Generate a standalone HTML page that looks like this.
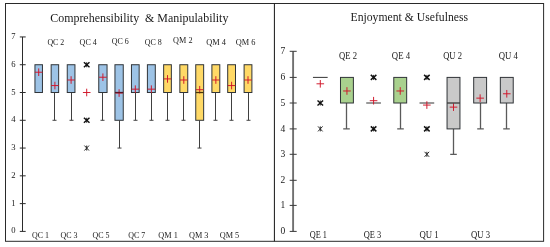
<!DOCTYPE html>
<html lang="en"><head><meta charset="utf-8"><title>Box plots</title>
<style>html,body{margin:0;padding:0;background:#fff}svg{display:block;filter:blur(0.3px)}svg text{font-family:"Liberation Serif","DejaVu Serif",serif}</style>
</head><body>
<svg width="550" height="247" viewBox="0 0 550 247" font-family='"Liberation Serif", "DejaVu Serif", serif'>
<rect width="550" height="247" fill="#fff"/>
<rect x="5.5" y="3.5" width="538.1" height="237.8" fill="none" stroke="#2a2a2a" stroke-width="1"/>
<path d="M274.4 3.5V241.3" stroke="#151515" stroke-width="1"/>
<path d="M22.5 36.95V231.40" stroke="#2b2b2b" stroke-width="1"/>
<path d="M19.8 231.40H25.7" stroke="#2b2b2b" stroke-width="1"/>
<text x="13.50" y="233.40" font-size="8.6" text-anchor="middle" fill="#1a1a1a">0</text>
<path d="M19.8 203.62H25.7" stroke="#2b2b2b" stroke-width="1"/>
<text x="13.50" y="205.62" font-size="8.6" text-anchor="middle" fill="#1a1a1a">1</text>
<path d="M19.8 175.84H25.7" stroke="#2b2b2b" stroke-width="1"/>
<text x="13.50" y="177.84" font-size="8.6" text-anchor="middle" fill="#1a1a1a">2</text>
<path d="M19.8 148.06H25.7" stroke="#2b2b2b" stroke-width="1"/>
<text x="13.50" y="150.06" font-size="8.6" text-anchor="middle" fill="#1a1a1a">3</text>
<path d="M19.8 120.29H25.7" stroke="#2b2b2b" stroke-width="1"/>
<text x="13.50" y="122.29" font-size="8.6" text-anchor="middle" fill="#1a1a1a">4</text>
<path d="M19.8 92.51H25.7" stroke="#2b2b2b" stroke-width="1"/>
<text x="13.50" y="94.51" font-size="8.6" text-anchor="middle" fill="#1a1a1a">5</text>
<path d="M19.8 64.73H25.7" stroke="#2b2b2b" stroke-width="1"/>
<text x="13.50" y="66.73" font-size="8.6" text-anchor="middle" fill="#1a1a1a">6</text>
<path d="M19.8 36.95H25.7" stroke="#2b2b2b" stroke-width="1"/>
<text x="13.50" y="38.95" font-size="8.6" text-anchor="middle" fill="#1a1a1a">7</text>
<path d="M293.1 51.30V231.40" stroke="#707070" stroke-width="1.9"/>
<path d="M289.70000000000005 231.40H296.70000000000005" stroke="#3a3a3a" stroke-width="1"/>
<text x="282.80" y="234.30" font-size="9.5" text-anchor="middle" fill="#1a1a1a">0</text>
<path d="M289.70000000000005 205.40H296.70000000000005" stroke="#3a3a3a" stroke-width="1"/>
<text x="282.80" y="208.30" font-size="9.5" text-anchor="middle" fill="#1a1a1a">1</text>
<path d="M289.70000000000005 180.30H296.70000000000005" stroke="#3a3a3a" stroke-width="1"/>
<text x="282.80" y="183.20" font-size="9.5" text-anchor="middle" fill="#1a1a1a">2</text>
<path d="M289.70000000000005 154.30H296.70000000000005" stroke="#3a3a3a" stroke-width="1"/>
<text x="282.80" y="157.20" font-size="9.5" text-anchor="middle" fill="#1a1a1a">3</text>
<path d="M289.70000000000005 128.90H296.70000000000005" stroke="#3a3a3a" stroke-width="1"/>
<text x="282.80" y="131.80" font-size="9.5" text-anchor="middle" fill="#1a1a1a">4</text>
<path d="M289.70000000000005 103.00H296.70000000000005" stroke="#3a3a3a" stroke-width="1"/>
<text x="282.80" y="105.90" font-size="9.5" text-anchor="middle" fill="#1a1a1a">5</text>
<path d="M289.70000000000005 77.40H296.70000000000005" stroke="#3a3a3a" stroke-width="1"/>
<text x="282.80" y="80.30" font-size="9.5" text-anchor="middle" fill="#1a1a1a">6</text>
<path d="M289.70000000000005 51.30H296.70000000000005" stroke="#3a3a3a" stroke-width="1"/>
<text x="282.80" y="54.20" font-size="9.5" text-anchor="middle" fill="#1a1a1a">7</text>
<text x="139.30" y="21.80" font-size="11.5" text-anchor="middle" fill="#1a1a1a" textLength="178.2" lengthAdjust="spacingAndGlyphs">Comprehensibility &#160;&amp; Manipulability</text>
<text x="409.30" y="20.80" font-size="11.5" text-anchor="middle" fill="#1a1a1a" textLength="117.6" lengthAdjust="spacingAndGlyphs">Enjoyment &amp; Usefulness</text>
<rect x="34.95" y="64.73" width="7.50" height="27.78" fill="#9dc3e6" stroke="#303438" stroke-width="1"/>
<path d="M34.90 72.23H42.50M38.70 68.43V76.03" stroke="#d01428" stroke-width="0.95" fill="none"/>
<path d="M54.50 92.51V120.29M52.50 120.29H56.50" stroke="#404040" stroke-width="1.0" fill="none"/>
<rect x="51.15" y="64.73" width="7.50" height="27.78" fill="#9dc3e6" stroke="#303438" stroke-width="1"/>
<path d="M51.10 85.56H58.70M54.90 81.76V89.36" stroke="#d01428" stroke-width="0.95" fill="none"/>
<path d="M71.50 92.51V120.29M69.50 120.29H73.50" stroke="#404040" stroke-width="1.0" fill="none"/>
<rect x="67.25" y="64.73" width="7.70" height="27.78" fill="#9dc3e6" stroke="#303438" stroke-width="1"/>
<path d="M67.30 80.01H74.90M71.10 76.21V83.81" stroke="#d01428" stroke-width="0.95" fill="none"/>
<path d="M83.90 62.23L89.50 67.23M83.90 67.23L89.50 62.23" stroke="#111" stroke-width="1.45" fill="none"/>
<path d="M86.70 62.23V67.23" stroke="#111" stroke-width="0.9" fill="none"/>
<path d="M83.90 117.79L89.50 122.79M83.90 122.79L89.50 117.79" stroke="#111" stroke-width="1.45" fill="none"/>
<path d="M86.70 117.79V122.79" stroke="#111" stroke-width="0.9" fill="none"/>
<path d="M84.40 145.56L89.00 150.56M84.40 150.56L89.00 145.56M86.70 145.56V150.56" stroke="#2a2a2a" stroke-width="1.0" fill="none"/>
<path d="M82.90 92.51H90.50M86.70 88.71V96.31" stroke="#d01428" stroke-width="0.95" fill="none"/>
<path d="M102.50 92.51V120.29M100.50 120.29H104.50" stroke="#404040" stroke-width="1.0" fill="none"/>
<rect x="98.75" y="64.73" width="8.30" height="27.78" fill="#9dc3e6" stroke="#303438" stroke-width="1"/>
<path d="M99.10 77.23H106.70M102.90 73.43V81.03" stroke="#d01428" stroke-width="0.95" fill="none"/>
<path d="M119.50 120.29V148.06M117.50 148.06H121.50" stroke="#404040" stroke-width="1.0" fill="none"/>
<rect x="114.95" y="64.73" width="8.30" height="55.56" fill="#9dc3e6" stroke="#303438" stroke-width="1"/>
<path d="M115.30 93.06H122.90M119.10 89.26V96.86" stroke="#d01428" stroke-width="0.95" fill="none"/>
<path d="M114.95 92.51H123.25" stroke="#5a1624" stroke-width="1.3" fill="none"/>
<path d="M135.50 92.51V120.29M133.50 120.29H137.50" stroke="#404040" stroke-width="1.0" fill="none"/>
<rect x="131.45" y="64.73" width="7.70" height="27.78" fill="#9dc3e6" stroke="#303438" stroke-width="1"/>
<path d="M131.50 89.17H139.10M135.30 85.37V92.97" stroke="#d01428" stroke-width="0.95" fill="none"/>
<path d="M151.50 92.51V120.29M149.50 120.29H153.50" stroke="#404040" stroke-width="1.0" fill="none"/>
<rect x="147.40" y="64.73" width="7.90" height="27.78" fill="#9dc3e6" stroke="#303438" stroke-width="1"/>
<path d="M147.55 89.17H155.15M151.35 85.37V92.97" stroke="#d01428" stroke-width="0.95" fill="none"/>
<path d="M167.50 92.51V120.29M165.50 120.29H169.50" stroke="#404040" stroke-width="1.0" fill="none"/>
<rect x="163.65" y="64.73" width="7.70" height="27.78" fill="#ffd966" stroke="#303438" stroke-width="1"/>
<path d="M163.70 78.90H171.30M167.50 75.10V82.70" stroke="#d01428" stroke-width="0.95" fill="none"/>
<path d="M183.50 92.51V120.29M181.50 120.29H185.50" stroke="#404040" stroke-width="1.0" fill="none"/>
<rect x="179.85" y="64.73" width="7.90" height="27.78" fill="#ffd966" stroke="#303438" stroke-width="1"/>
<path d="M180.00 80.01H187.60M183.80 76.21V83.81" stroke="#d01428" stroke-width="0.95" fill="none"/>
<path d="M199.50 120.29V148.06M197.50 148.06H201.50" stroke="#404040" stroke-width="1.0" fill="none"/>
<rect x="195.75" y="64.73" width="7.90" height="55.56" fill="#ffd966" stroke="#303438" stroke-width="1"/>
<path d="M195.90 89.73H203.50M199.70 85.93V93.53" stroke="#d01428" stroke-width="0.95" fill="none"/>
<path d="M195.75 92.51H203.65" stroke="#4a3508" stroke-width="1.3" fill="none"/>
<path d="M215.50 92.51V120.29M213.50 120.29H217.50" stroke="#404040" stroke-width="1.0" fill="none"/>
<rect x="211.90" y="64.73" width="7.90" height="27.78" fill="#ffd966" stroke="#303438" stroke-width="1"/>
<path d="M212.05 80.01H219.65M215.85 76.21V83.81" stroke="#d01428" stroke-width="0.95" fill="none"/>
<path d="M231.50 92.51V120.29M229.50 120.29H233.50" stroke="#404040" stroke-width="1.0" fill="none"/>
<rect x="227.70" y="64.73" width="7.80" height="27.78" fill="#ffd966" stroke="#303438" stroke-width="1"/>
<path d="M227.80 85.56H235.40M231.60 81.76V89.36" stroke="#d01428" stroke-width="0.95" fill="none"/>
<path d="M248.50 92.51V120.29M246.50 120.29H250.50" stroke="#404040" stroke-width="1.0" fill="none"/>
<rect x="244.10" y="64.73" width="7.80" height="27.78" fill="#ffd966" stroke="#303438" stroke-width="1"/>
<path d="M244.20 80.01H251.80M248.00 76.21V83.81" stroke="#d01428" stroke-width="0.95" fill="none"/>
<text x="55.80" y="44.90" font-size="8.3" text-anchor="middle" fill="#1a1a1a" textLength="16.8" lengthAdjust="spacingAndGlyphs">QC 2</text>
<text x="88.20" y="44.90" font-size="8.3" text-anchor="middle" fill="#1a1a1a" textLength="17.2" lengthAdjust="spacingAndGlyphs">QC 4</text>
<text x="120.20" y="43.50" font-size="8.3" text-anchor="middle" fill="#1a1a1a" textLength="17.0" lengthAdjust="spacingAndGlyphs">QC 6</text>
<text x="153.20" y="44.90" font-size="8.3" text-anchor="middle" fill="#1a1a1a" textLength="17.0" lengthAdjust="spacingAndGlyphs">QC 8</text>
<text x="182.80" y="43.20" font-size="8.3" text-anchor="middle" fill="#1a1a1a" textLength="19.4" lengthAdjust="spacingAndGlyphs">QM 2</text>
<text x="216.10" y="44.90" font-size="8.3" text-anchor="middle" fill="#1a1a1a" textLength="19.8" lengthAdjust="spacingAndGlyphs">QM 4</text>
<text x="245.50" y="44.60" font-size="8.3" text-anchor="middle" fill="#1a1a1a" textLength="19.7" lengthAdjust="spacingAndGlyphs">QM 6</text>
<text x="40.60" y="238.40" font-size="8.3" text-anchor="middle" fill="#1a1a1a" textLength="17.0" lengthAdjust="spacingAndGlyphs">QC 1</text>
<text x="69.00" y="238.40" font-size="8.3" text-anchor="middle" fill="#1a1a1a" textLength="17.0" lengthAdjust="spacingAndGlyphs">QC 3</text>
<text x="101.00" y="238.40" font-size="8.3" text-anchor="middle" fill="#1a1a1a" textLength="17.0" lengthAdjust="spacingAndGlyphs">QC 5</text>
<text x="136.80" y="238.40" font-size="8.3" text-anchor="middle" fill="#1a1a1a" textLength="17.0" lengthAdjust="spacingAndGlyphs">QC 7</text>
<text x="168.10" y="238.40" font-size="8.3" text-anchor="middle" fill="#1a1a1a" textLength="19.5" lengthAdjust="spacingAndGlyphs">QM 1</text>
<text x="198.70" y="238.40" font-size="8.3" text-anchor="middle" fill="#1a1a1a" textLength="19.5" lengthAdjust="spacingAndGlyphs">QM 3</text>
<text x="229.50" y="238.40" font-size="8.3" text-anchor="middle" fill="#1a1a1a" textLength="19.5" lengthAdjust="spacingAndGlyphs">QM 5</text>
<path d="M317.50 100.50L323.10 105.50M317.50 105.50L323.10 100.50" stroke="#111" stroke-width="1.45" fill="none"/>
<path d="M320.30 100.50V105.50" stroke="#111" stroke-width="0.9" fill="none"/>
<path d="M318.00 126.40L322.60 131.40M318.00 131.40L322.60 126.40M320.30 126.40V131.40" stroke="#2a2a2a" stroke-width="1.0" fill="none"/>
<path d="M312.95 77.40H327.65" stroke="#3c3c3c" stroke-width="1.05" fill="none"/>
<path d="M316.50 83.80H324.10M320.30 80.00V87.60" stroke="#d01428" stroke-width="0.95" fill="none"/>
<path d="M346.50 103.00V128.90M343.20 128.90H349.80" stroke="#5a5a5a" stroke-width="1.3" fill="none"/>
<rect x="340.49" y="77.40" width="12.90" height="25.60" fill="#a9d18e" stroke="#303438" stroke-width="1"/>
<path d="M343.14 90.97H350.74M346.94 87.17V94.77" stroke="#d01428" stroke-width="0.95" fill="none"/>
<path d="M370.78 74.90L376.38 79.90M370.78 79.90L376.38 74.90" stroke="#111" stroke-width="1.45" fill="none"/>
<path d="M373.58 74.90V79.90" stroke="#111" stroke-width="0.9" fill="none"/>
<path d="M370.78 126.40L376.38 131.40M370.78 131.40L376.38 126.40" stroke="#111" stroke-width="1.45" fill="none"/>
<path d="M373.58 126.40V131.40" stroke="#111" stroke-width="0.9" fill="none"/>
<path d="M366.23 103.00H380.93" stroke="#3c3c3c" stroke-width="1.05" fill="none"/>
<path d="M369.78 100.70H377.38M373.58 96.90V104.50" stroke="#d01428" stroke-width="0.95" fill="none"/>
<path d="M400.50 103.00V128.90M397.20 128.90H403.80" stroke="#5a5a5a" stroke-width="1.3" fill="none"/>
<rect x="393.77" y="77.40" width="12.90" height="25.60" fill="#a9d18e" stroke="#303438" stroke-width="1"/>
<path d="M396.42 90.97H404.02M400.22 87.17V94.77" stroke="#d01428" stroke-width="0.95" fill="none"/>
<path d="M424.06 74.90L429.66 79.90M424.06 79.90L429.66 74.90" stroke="#111" stroke-width="1.45" fill="none"/>
<path d="M426.86 74.90V79.90" stroke="#111" stroke-width="0.9" fill="none"/>
<path d="M424.06 126.40L429.66 131.40M424.06 131.40L429.66 126.40" stroke="#111" stroke-width="1.45" fill="none"/>
<path d="M426.86 126.40V131.40" stroke="#111" stroke-width="0.9" fill="none"/>
<path d="M424.56 151.80L429.16 156.80M424.56 156.80L429.16 151.80M426.86 151.80V156.80" stroke="#2a2a2a" stroke-width="1.0" fill="none"/>
<path d="M419.51 103.00H434.21" stroke="#3c3c3c" stroke-width="1.05" fill="none"/>
<path d="M423.06 105.07H430.66M426.86 101.27V108.87" stroke="#d01428" stroke-width="0.95" fill="none"/>
<path d="M453.50 128.90V154.30M450.20 154.30H456.80" stroke="#5a5a5a" stroke-width="1.3" fill="none"/>
<rect x="447.05" y="77.40" width="12.90" height="51.50" fill="#c9c9c9" stroke="#303438" stroke-width="1"/>
<path d="M449.70 107.14H457.30M453.50 103.34V110.94" stroke="#d01428" stroke-width="0.95" fill="none"/>
<path d="M447.05 103.00H459.95" stroke="#3a3a3a" stroke-width="1.3" fill="none"/>
<path d="M480.50 103.00V128.90M477.20 128.90H483.80" stroke="#5a5a5a" stroke-width="1.3" fill="none"/>
<rect x="473.69" y="77.40" width="12.90" height="25.60" fill="#c9c9c9" stroke="#303438" stroke-width="1"/>
<path d="M476.34 98.14H483.94M480.14 94.34V101.94" stroke="#d01428" stroke-width="0.95" fill="none"/>
<path d="M506.50 103.00V128.90M503.20 128.90H509.80" stroke="#5a5a5a" stroke-width="1.3" fill="none"/>
<rect x="500.33" y="77.40" width="12.90" height="25.60" fill="#c9c9c9" stroke="#303438" stroke-width="1"/>
<path d="M502.98 93.78H510.58M506.78 89.98V97.58" stroke="#d01428" stroke-width="0.95" fill="none"/>
<text x="348.00" y="59.40" font-size="9.3" text-anchor="middle" fill="#1a1a1a" textLength="18.0" lengthAdjust="spacingAndGlyphs">QE 2</text>
<text x="401.00" y="59.40" font-size="9.3" text-anchor="middle" fill="#1a1a1a" textLength="18.3" lengthAdjust="spacingAndGlyphs">QE 4</text>
<text x="452.60" y="59.40" font-size="9.3" text-anchor="middle" fill="#1a1a1a" textLength="18.8" lengthAdjust="spacingAndGlyphs">QU 2</text>
<text x="508.40" y="59.40" font-size="9.3" text-anchor="middle" fill="#1a1a1a" textLength="19.2" lengthAdjust="spacingAndGlyphs">QU 4</text>
<text x="318.40" y="238.10" font-size="9.3" text-anchor="middle" fill="#1a1a1a" textLength="17.2" lengthAdjust="spacingAndGlyphs">QE 1</text>
<text x="372.50" y="238.10" font-size="9.3" text-anchor="middle" fill="#1a1a1a" textLength="17.5" lengthAdjust="spacingAndGlyphs">QE 3</text>
<text x="429.00" y="238.10" font-size="9.3" text-anchor="middle" fill="#1a1a1a" textLength="19.2" lengthAdjust="spacingAndGlyphs">QU 1</text>
<text x="480.50" y="238.10" font-size="9.3" text-anchor="middle" fill="#1a1a1a" textLength="19.1" lengthAdjust="spacingAndGlyphs">QU 3</text>
</svg>
</body></html>
